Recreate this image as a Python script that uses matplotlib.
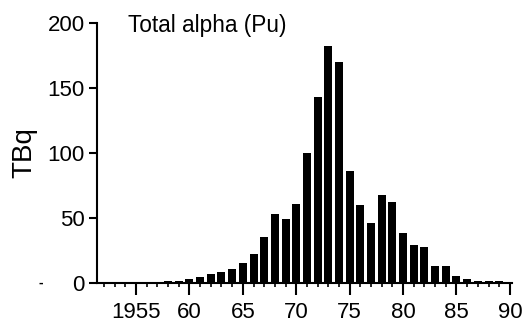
import matplotlib
matplotlib.use('Agg')
import matplotlib.pyplot as plt
from matplotlib.ticker import MultipleLocator

years = list(range(1957, 1990))
tbq = [1.0, 1.2, 1.5, 3.0, 4.4, 6.7, 8.5, 10.8, 15.6, 22, 35,
       53, 49, 61, 100, 143, 182, 170, 86, 60, 46,
       68, 62, 38.5, 29, 27.5, 13, 13, 5.4, 3, 1.8, 1.8, 1.8]

major_ticks = [1955, 1960, 1965, 1970, 1975, 1980, 1985, 1990]
major_labels = ['1955', '60', '65', '70', '75', '80', '85', '90']
y_ticks = [0, 50, 100, 150, 200]

plt.rcParams['font.family'] = ['Liberation Sans', 'DejaVu Sans']

fig = plt.figure(figsize=(5.25, 3.27), dpi=100)
ax = fig.add_axes([0.1848, 0.1346, 0.7905, 0.795])

ax.bar(years, tbq, width=0.75, color='black')

ax.set_xlim(1951.35, 1990.2)
ax.set_ylim(0, 200)
ax.set_xticks(major_ticks)
ax.set_xticklabels(major_labels)
ax.xaxis.set_minor_locator(MultipleLocator(1))
ax.set_yticks(y_ticks)

for s in ('top', 'right'):
    ax.spines[s].set_visible(False)
for s in ('left', 'bottom'):
    ax.spines[s].set_linewidth(1.5)

ax.tick_params(axis='x', which='major', length=8.6, width=1.5, pad=5, labelsize=16)
ax.tick_params(axis='x', which='minor', length=2.6, width=1.2)
ax.tick_params(axis='y', which='major', length=6, width=1.5, pad=3, labelsize=16)

ax.set_ylabel('TBq', fontsize=20, labelpad=7)
fig.text(128 / 525, 0.902, 'Total alpha (Pu)', fontsize=16.3,
         va='baseline', ha='left')
fig.text(0.077, 0.134, '-', fontsize=10, fontweight='bold', va='center', ha='center')

fig.savefig('out.png', dpi=100)
